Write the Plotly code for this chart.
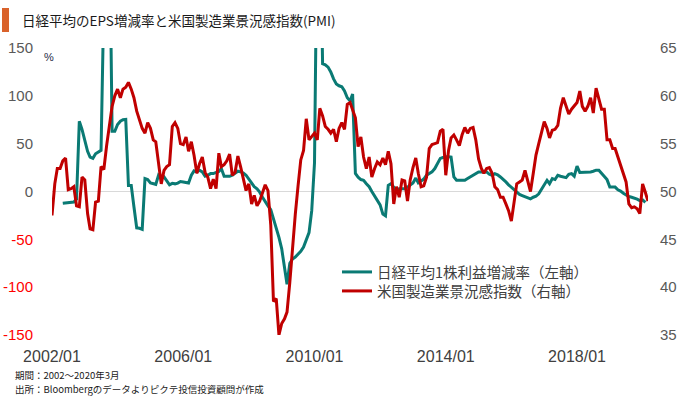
import pandas as pd
import plotly.graph_objects as go

# ---- data ----
# US manufacturing PMI, monthly 2002/01 - 2020/03 (right axis)
pmi_2002 = [47.5, 50.8, 52.4, 52.4, 53.2, 53.5, 50.2, 50.3, 50.5, 48.5, 48.4, 51.5]
pmi_2003 = [51.2, 47.7, 46.1, 46.0, 48.9, 49.0, 52.6, 52.3, 54.8, 56.8, 58.9, 60.0]
pmi_2004 = [60.7, 59.8, 60.7, 60.9, 61.4, 60.7, 59.8, 58.4, 57.5, 56.6, 56.1, 57.2]
pmi_2005 = [56.6, 55.4, 55.2, 53.0, 50.8, 52.2, 52.6, 52.8, 56.8, 57.2, 56.6, 55.0]
pmi_2006 = [54.9, 55.7, 54.2, 55.2, 53.8, 51.9, 52.9, 53.6, 52.0, 51.5, 50.3, 51.3]
pmi_2007 = [50.3, 54.0, 52.6, 52.8, 53.2, 53.9, 51.7, 52.0, 53.7, 52.6, 51.2, 50.1]
pmi_2008 = [50.8, 48.7, 49.6, 48.5, 49.0, 49.9, 50.7, 50.1, 46.5, 38.5, 38.8, 35.0]
pmi_2009 = [36.2, 36.7, 37.4, 40.5, 44.5, 47.6, 50.5, 53.3, 54.3, 57.6, 55.4, 55.7]
pmi_2010 = [56.1, 55.4, 58.7, 57.9, 56.8, 56.5, 56.1, 56.5, 55.2, 56.6, 57.2, 56.5]
pmi_2011 = [59.1, 59.3, 58.6, 57.7, 54.7, 55.7, 53.6, 52.4, 53.6, 51.5, 52.4, 53.1]
pmi_2012 = [52.8, 53.5, 52.8, 54.2, 52.9, 48.7, 50.5, 49.4, 51.2, 51.1, 49.0, 51.2]
pmi_2013 = [52.5, 53.5, 51.9, 50.5, 50.6, 51.5, 54.5, 54.9, 55.0, 55.1, 56.3, 56.5]
pmi_2014 = [51.7, 54.3, 55.6, 55.9, 55.4, 54.8, 55.9, 56.7, 56.1, 56.6, 56.7, 55.4]
pmi_2015 = [53.4, 52.4, 51.9, 52.4, 52.5, 51.9, 50.5, 50.2, 49.4, 49.4, 48.7, 48.0]
pmi_2016 = [46.9, 49.0, 50.8, 51.0, 51.2, 52.2, 51.0, 50.0, 51.9, 53.8, 55.0, 56.1]
pmi_2017 = [57.3, 56.6, 55.6, 56.4, 56.5, 56.9, 58.7, 59.8, 58.9, 58.1, 58.6, 59.0]
pmi_2018 = [59.3, 60.5, 58.9, 58.4, 58.9, 59.8, 58.2, 60.8, 59.6, 58.6, 58.6, 55.4]
pmi_2019 = [55.4, 54.5, 54.5, 53.6, 52.6, 51.7, 51.0, 48.7, 48.3, 48.4, 48.2, 47.7]
pmi_2020 = [50.8, 49.9, 49.0]

# Nikkei 225 EPS growth (%), monthly 2002/05 - 2020/02 (left axis)
eps_2002 = [-12.4, -12.0, -11.8, -11.5, -11.0, -8.0, 73.5, 65.0]
eps_2003 = [53.0, 42.0, 36.0, 34.7, 39.5, 41.5, 43.0, 200.0, 300.0, 300.0, 62.9, 62.9]
eps_2004 = [70.0, 73.5, 75.0, 75.3, 6.4, 6.4, -16.0, -38.0, -38.5, -39.5, 13.5, 12.5]
eps_2005 = [9.0, 8.0, 7.5, 17.0, 14.0, 15.2, 11.0, 7.0, 8.5, 8.0, 8.8, 10.5]
eps_2006 = [10.0, 9.5, 8.8, 17.0, 21.5, 20.5, 22.3, 20.5, 16.0, 17.0, 18.7, 18.7]
eps_2007 = [20.0, 21.0, 24.0, 15.9, 15.9, 15.9, 17.0, 19.0, 21.2, 20.5, 19.4, 17.0]
eps_2008 = [12.5, 9.0, 5.0, 2.9, -0.7, -6.0, -11.0, -15.0, -19.0, -28.0, -38.0, -48.0]
eps_2009 = [-60.0, -80.0, -97.0, -75.0, -70.5, -68.5, -66.0, -62.5, -58.0, -51.0, -43.0, -20.0]
eps_2010 = [30.0, 300.0, 300.0, 133.6, 132.5, 130.0, 125.0, 117.7, 112.4, 110.5, 109.5, 105.0]
eps_2011 = [98.0, 94.7, 101.8, 18.8, 15.0, 12.5, 11.7, 8.2, 5.0, 0.0, -5.0, -9.0]
eps_2012 = [-14.0, -23.6, -25.4, 6.4, 8.2, 4.6, 1.1, 2.9, 2.9, 2.9, 4.6, 6.4]
eps_2013 = [9.0, 14.0, 9.0, 11.0, 13.0, 17.0, 19.0, 20.5, 24.0, 30.0, 34.6, 35.5]
eps_2014 = [36.4, 36.4, 36.0, 15.2, 11.7, 11.7, 11.5, 11.7, 13.5, 15.2, 17.0, 18.7]
eps_2015 = [20.5, 20.5, 20.5, 20.5, 18.0, 17.0, 18.7, 17.5, 15.2, 13.0, 10.0, 7.0]
eps_2016 = [4.6, 2.0, -0.7, -3.0, -4.2, -5.5, -6.0, -7.7, -6.0, -5.0, -2.4, 2.0]
eps_2017 = [6.4, 11.7, 8.2, 13.5, 12.5, 17.0, 16.0, 15.2, 14.5, 18.0, 18.7, 16.0]
eps_2018 = [26.5, 19.8, 19.8, 19.8, 19.8, 20.5, 21.2, 22.3, 22.3, 19.4, 15.9, 12.4]
eps_2019 = [4.6, 4.6, 4.6, 1.8, 0.5, -1.8, -3.5, -5.3, -6.0, -6.7, -8.0, -9.5]
eps_2020 = [-8.8, -11.3]

x_tick_dates = ["2002-01-01", "2006-01-01", "2010-01-01", "2014-01-01", "2018-01-01"]
x_tick_labels = ["2002/01", "2006/01", "2010/01", "2014/01", "2018/01"]
left_ticks = [-150, -100, -50, 0, 50, 100, 150]
right_ticks = [35, 40, 45, 50, 55, 60, 65]

pmi = (pmi_2002 + pmi_2003 + pmi_2004 + pmi_2005 + pmi_2006 + pmi_2007 + pmi_2008 +
       pmi_2009 + pmi_2010 + pmi_2011 + pmi_2012 + pmi_2013 + pmi_2014 + pmi_2015 +
       pmi_2016 + pmi_2017 + pmi_2018 + pmi_2019 + pmi_2020)
eps = (eps_2002 + eps_2003 + eps_2004 + eps_2005 + eps_2006 + eps_2007 + eps_2008 +
       eps_2009 + eps_2010 + eps_2011 + eps_2012 + eps_2013 + eps_2014 + eps_2015 +
       eps_2016 + eps_2017 + eps_2018 + eps_2019 + eps_2020)

pmi_dates = pd.date_range("2002-01-01", periods=len(pmi), freq="MS")
eps_dates = pd.date_range("2002-05-01", periods=len(eps), freq="MS")

TEAL = "#0A7A74"
RED = "#C00000"
GRAY = "#595959"
CJK = "Noto Sans CJK JP, Noto Sans CJK SC, sans-serif"
LAT = "Liberation Sans, Arial, sans-serif"

def left_label(v):
    if v < 0:
        return '<span style="color:#FF0000">%d</span>' % v
    return str(v)

fig = go.Figure()
fig.add_trace(go.Scatter(x=eps_dates, y=eps, mode="lines", name="日経平均1株利益増減率（左軸）",
                         line=dict(color=TEAL, width=3), yaxis="y", legend="legend"))
fig.add_trace(go.Scatter(x=pmi_dates, y=pmi, mode="lines", name="米国製造業景況感指数（右軸）",
                         line=dict(color=RED, width=3), yaxis="y2", legend="legend2"))

W, H = 680, 397
L, R, T, B = 52, 32, 48, 62
pw, ph = W - L - R, H - T - B

def px(xp):
    return (xp - L) / pw

def py(yp):
    return (H - B - yp) / ph

legend_style = dict(xanchor="left", yanchor="top",
                    font=dict(family=CJK, size=14.5, color="#404040"),
                    bgcolor="rgba(0,0,0,0)")

fig.update_layout(
    width=W, height=H,
    margin=dict(l=L, r=R, t=T, b=B, autoexpand=False),
    paper_bgcolor="white", plot_bgcolor="white",
    showlegend=True,
    legend=dict(x=px(337), y=py(256), **legend_style),
    legend2=dict(x=px(337), y=py(275), **legend_style),
    xaxis=dict(type="date", range=["2002-01-01", "2020-03-01"],
               tickvals=x_tick_dates, ticktext=x_tick_labels, automargin=False,
               showgrid=False, showline=False, zeroline=False, ticks="",
               tickfont=dict(family=LAT, size=16, color="#404040"),
               ticklabelstandoff=10),
    yaxis=dict(range=[-150, 150], tickvals=left_ticks, automargin=False,
               ticktext=[left_label(v) for v in left_ticks],
               showgrid=False, showline=False, ticks="",
               zeroline=True, zerolinecolor="#D9D9D9", zerolinewidth=1,
               tickfont=dict(family=LAT, size=15, color=GRAY),
               ticklabelstandoff=18),
    yaxis2=dict(range=[35, 65], tickvals=right_ticks, overlaying="y", side="right",
                automargin=False,
                showgrid=False, showline=False, zeroline=False, ticks="",
                tickfont=dict(family=LAT, size=15, color=GRAY),
                ticklabelstandoff=11),
    shapes=[dict(type="rect", xref="paper", yref="paper",
                 x0=px(2), x1=px(9), y0=py(32), y1=py(8),
                 fillcolor="#D9622B", line=dict(width=0), layer="above")],
    annotations=[
        dict(text="日経平均のEPS増減率と米国製造業景況感指数(PMI)", xref="paper", yref="paper",
             x=px(20), y=py(20), xanchor="left", yanchor="middle", showarrow=False,
             font=dict(family=CJK, size=13.5, color="#1A1A1A")),
        dict(text="%", xref="paper", yref="paper", x=px(49), y=py(57),
             xanchor="center", yanchor="middle", showarrow=False,
             font=dict(family=LAT, size=11, color="#1F2A44")),
        dict(text="期間：2002～2020年3月",
             xref="paper", yref="paper", align="left",
             x=px(13), y=py(374.5), xanchor="left", yanchor="middle", showarrow=False,
             font=dict(family=CJK, size=9.5, color="#1A1A1A")),
        dict(text="出所：Bloombergのデータよりピクテ投信投資顧問が作成",
             xref="paper", yref="paper", align="left",
             x=px(13), y=py(388.5), xanchor="left", yanchor="middle", showarrow=False,
             font=dict(family=CJK, size=9.5, color="#1A1A1A")),
    ],
)

fig.write_html("out.html", config={"displayModeBar": False},
               post_script="document.body.style.margin='0';document.body.style.overflow='hidden';")
